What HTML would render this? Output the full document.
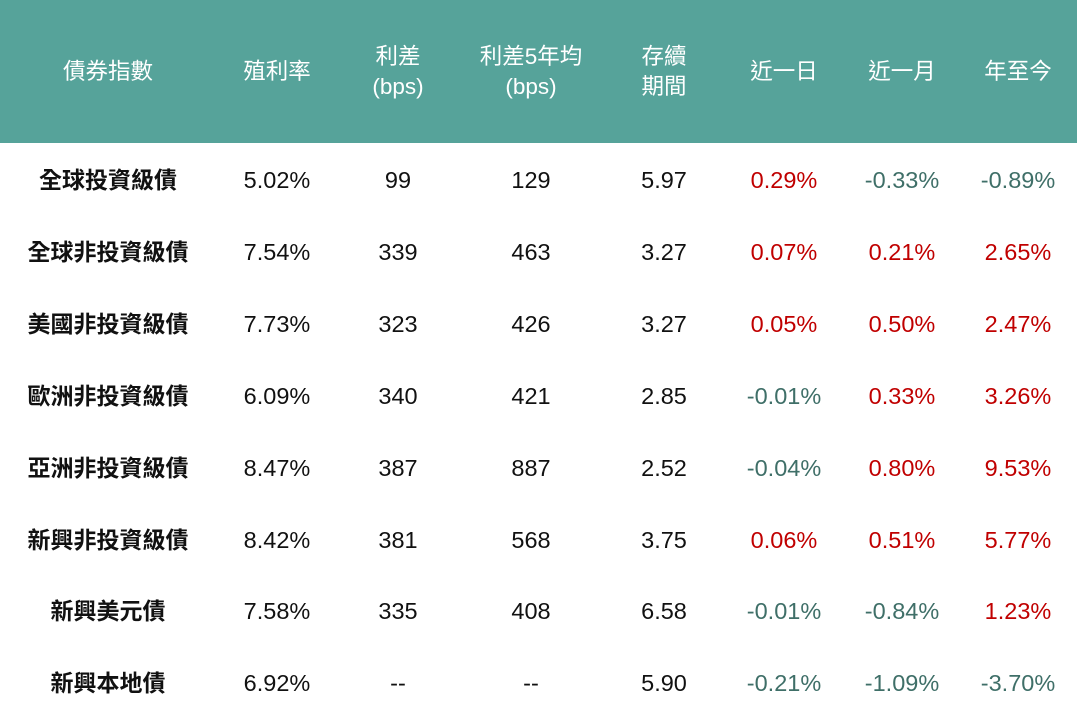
<!DOCTYPE html>
<html><head><meta charset="utf-8"><style>
body{margin:0;width:1077px;height:718px;background:#fff;position:relative;overflow:hidden;font-family:"Liberation Sans","Noto Sans CJK TC",sans-serif;}
.hd{position:absolute;left:0;top:0;width:1077px;height:143px;background:#56a39a;}
.c{position:absolute;transform:translate(-50%,-50%);white-space:nowrap;text-align:center;font-size:23.5px;line-height:30px;color:#111;}
.h{color:#fff;font-size:22.5px;}
.n{font-weight:bold;font-size:23px;}
.r{color:#c00000}.g{color:#3f6f68}
</style></head><body>
<div class="hd"></div>
<div class="c h" style="left:108px;top:72px">債券指數</div>
<div class="c h" style="left:277px;top:72px">殖利率</div>
<div class="c h" style="left:398px;top:72px">利差<br>(bps)</div>
<div class="c h" style="left:531px;top:72px">利差5年均<br>(bps)</div>
<div class="c h" style="left:664px;top:72px">存續<br>期間</div>
<div class="c h" style="left:784px;top:72px">近一日</div>
<div class="c h" style="left:902px;top:72px">近一月</div>
<div class="c h" style="left:1018px;top:72px">年至今</div>
<script>
const rows=[
["全球投資級債","5.02%","99","129","5.97","0.29%","-0.33%","-0.89%"],
["全球非投資級債","7.54%","339","463","3.27","0.07%","0.21%","2.65%"],
["美國非投資級債","7.73%","323","426","3.27","0.05%","0.50%","2.47%"],
["歐洲非投資級債","6.09%","340","421","2.85","-0.01%","0.33%","3.26%"],
["亞洲非投資級債","8.47%","387","887","2.52","-0.04%","0.80%","9.53%"],
["新興非投資級債","8.42%","381","568","3.75","0.06%","0.51%","5.77%"],
["新興美元債","7.58%","335","408","6.58","-0.01%","-0.84%","1.23%"],
["新興本地債","6.92%","--","--","5.90","-0.21%","-1.09%","-3.70%"]];
const xs=[108,277,398,531,664,784,902,1018];
let h="";
rows.forEach((r,i)=>{const y=180+i*71.9;
r.forEach((t,j)=>{let cl="c";if(j==0)cl+=" n";if(j>=5)cl+=t.startsWith("-")?" g":" r";
h+=`<div class="${cl}" style="left:${xs[j]}px;top:${y}px">${t}</div>`;});});
document.write(h);
</script>
</body></html>
